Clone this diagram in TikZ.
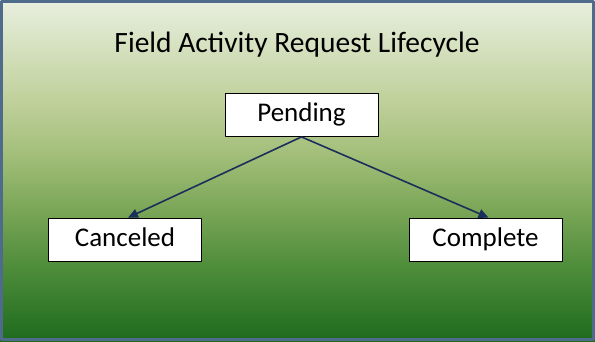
\documentclass[tikz,border=0pt]{standalone}
\usepackage{fontspec}
\setmainfont{Carlito}
\usetikzlibrary{arrows.meta}
\definecolor{frameblue}{HTML}{4F6B8C}
\definecolor{arrownavy}{HTML}{1B2F5A}
\definecolor{greentop}{HTML}{E8EFDF}
\definecolor{greenhi}{HTML}{BFD09A}
\definecolor{greenmid}{HTML}{A3BF7A}
\definecolor{greenlow}{HTML}{7EA85A}
\definecolor{greendeep}{HTML}{4A8A38}
\definecolor{greenbot}{HTML}{1E6B1E}
\pgfdeclareverticalshading{fieldbg}{100bp}{color(0bp)=(greenbot); color(25bp)=(greenbot); color(35bp)=(greendeep); color(45bp)=(greenlow); color(52.5bp)=(greenmid); color(60bp)=(greenhi); color(75bp)=(greentop); color(100bp)=(greentop)}
\begin{document}
\begin{tikzpicture}[x=1pt, y=1pt, font=\fontsize{27}{32}\selectfont, line join=round, >={Triangle[length=10pt,width=9pt]},
	statebox/.style={draw=black, fill=white, line width=0.8pt, minimum width=153pt, minimum height=43pt, inner sep=0pt, text height=19pt, text depth=6pt}]
	\path[use as bounding box] (0,0) rectangle (595,341);
	\shade[shading=fieldbg] (0,0) rectangle (595,341);
	\draw[frameblue, line width=3pt] (1.5,1.5) rectangle (593.5,339.5);
	\path
	(297,288) node[anchor=base, font=\fontsize{29.5}{34}\selectfont] (title) {Field Activity Request Lifecycle}
	(301.5,226) node[statebox] (pend) {Pending}
	(125,101.5) node[statebox] (canc) {Canceled}
	(485.5,101.5) node[statebox] (comp) {Complete}
	;
	\foreach \t in {canc,comp}\draw[->, arrownavy, line width=1.6pt] (pend.south) -- ([xshift=3pt]\t.north);
\end{tikzpicture}
\end{document}
